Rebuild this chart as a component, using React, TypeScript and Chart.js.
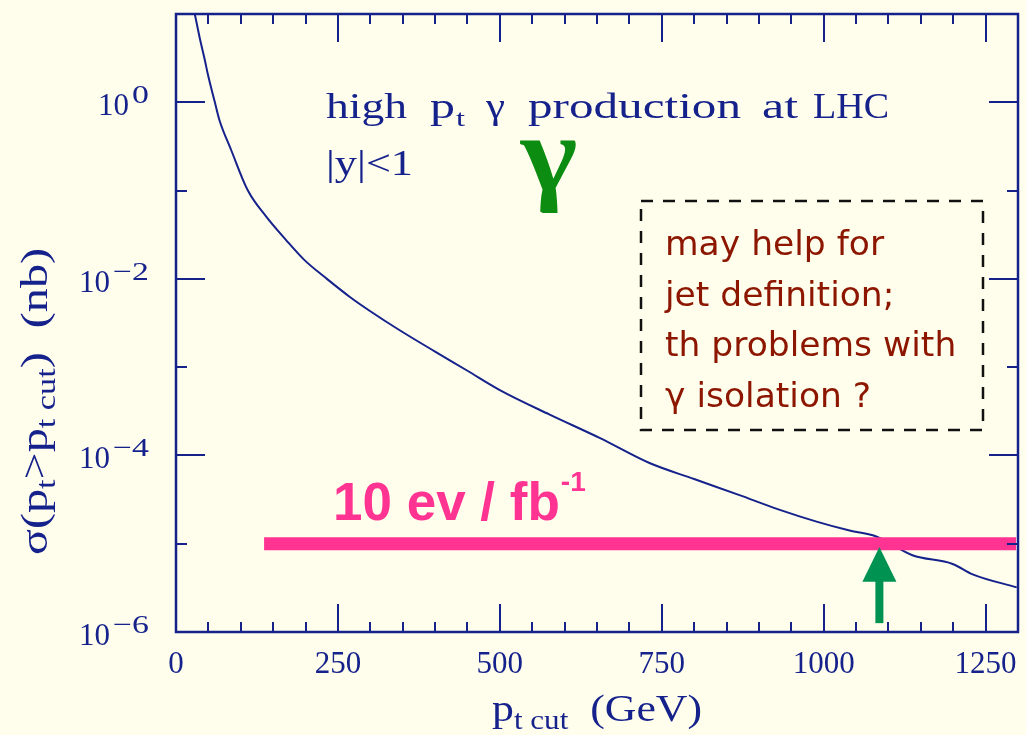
import React, { useEffect, useRef } from "react";
import { Chart, registerables } from "chart.js";
Chart.register(...registerables);

// ---- data ----
const ptCut = [25, 29, 37, 45, 49, 60, 67, 85, 111, 139, 170, 198, 233, 269, 300, 346, 400, 450, 500, 577, 654, 731, 800, 870, 930, 989, 1040, 1082, 1137, 1199, 1230, 1298];
const sigmaNb = [13.5, 10, 5.2, 2.9, 2.1, 1.0, 0.63, 0.29, 0.1, 0.051, 0.0275, 0.0164, 0.01, 0.0062, 0.0043, 0.0026, 0.0015, 0.00091, 0.00055, 0.00029, 0.000158, 0.000082, 0.000054, 0.0000355, 0.0000245, 0.0000178, 0.0000141, 0.000012, 0.0000074, 0.0000059, 0.0000045, 0.0000032];

const rateLineX = [136, 1297];
const rateLineY = [1e-5, 1e-5];

const arrowX = 1086;
const arrowFromY = 1.26e-6;
const arrowHeadBaseY = 3.7e-6;
const arrowTipY = 9.2e-6;

const xMin = 0;
const xMax = 1300;
const xMajorStep = 250;
const xMinorStep = 50;
const xTickValues = [0, 250, 500, 750, 1000, 1250];
const xTickLabels = ["0", "250", "500", "750", "1000", "1250"];
const yMinExp = -6;
const yMaxExp = 1;
const yTickExps = [0, -2, -4, -6];
const yTickSup = ["0", "\u22122", "\u22124", "\u22126"];

const titleWords = ["high", "p", "\u03b3", "production", "at", "LHC"];
const rapidityCut = "|y|<1";
const gammaSymbol = "\u03b3";
const noteLines = ["may help for", "jet definition;", "th problems with", "\u03b3 isolation ?"];
const rateLabel = "10 ev / fb";
const rateLabelSup = "-1";

const BG = "#fffeec";
const AXIS = "#16228c";
const PINK = "#ff3392";
const GREEN = "#009250";
const SERIF = "'Liberation Serif', 'Times New Roman', serif";

type Seg = { t: string; size: number; dy?: number };

function richWidth(ctx: CanvasRenderingContext2D, segs: Seg[]) {
  let w = 0;
  for (const s of segs) {
    ctx.font = `${s.size}px ${SERIF}`;
    w += ctx.measureText(s.t).width;
  }
  return w;
}
function drawRich(ctx: CanvasRenderingContext2D, segs: Seg[], x: number, y: number, sx: number) {
  ctx.save();
  ctx.translate(x, y);
  ctx.scale(sx, 1);
  let cx = 0;
  for (const s of segs) {
    ctx.font = `${s.size}px ${SERIF}`;
    ctx.fillText(s.t, cx, s.dy || 0);
    cx += ctx.measureText(s.t).width;
  }
  ctx.restore();
}
function drawFit(ctx: CanvasRenderingContext2D, t: string, x: number, y: number, w: number) {
  const nat = ctx.measureText(t).width;
  ctx.save();
  ctx.translate(x, y);
  ctx.scale(w / nat, 1);
  ctx.fillText(t, 0, 0);
  ctx.restore();
}

const bgPlugin = {
  id: "bg",
  beforeDraw(chart: any) {
    const ctx = chart.ctx;
    ctx.save();
    ctx.fillStyle = BG;
    ctx.fillRect(0, 0, chart.width, chart.height);
    ctx.restore();
  },
};

const arrowPlugin = {
  id: "arrow",
  afterDatasetsDraw(chart: any) {
    const { ctx, scales } = chart;
    const x = scales.x.getPixelForValue(arrowX);
    const yb = scales.y.getPixelForValue(arrowFromY);
    const yh = scales.y.getPixelForValue(arrowHeadBaseY);
    const yt = scales.y.getPixelForValue(arrowTipY);
    ctx.save();
    ctx.fillStyle = GREEN;
    ctx.fillRect(x - 4, yh - 1, 8, yb - yh + 1);
    ctx.beginPath();
    ctx.moveTo(x, yt);
    ctx.lineTo(x + 17, yh);
    ctx.lineTo(x - 17, yh);
    ctx.closePath();
    ctx.fill();
    ctx.restore();
  },
};

const axesPlugin = {
  id: "axesText",
  afterDraw(chart: any) {
    const { ctx, chartArea: a, scales } = chart;
    const xs = scales.x;
    const ys = scales.y;
    ctx.save();
    ctx.strokeStyle = AXIS;
    ctx.fillStyle = AXIS;
    // ticks
    ctx.lineWidth = 2;
    ctx.beginPath();
    for (let v = xMin + xMinorStep; v < xMax; v += xMinorStep) {
      const px = Math.round(xs.getPixelForValue(v));
      const len = v % xMajorStep === 0 ? 28 : 10;
      ctx.moveTo(px, a.bottom);
      ctx.lineTo(px, a.bottom - len);
      ctx.moveTo(px, a.top);
      ctx.lineTo(px, a.top + len);
    }
    for (let e = yMinExp + 1; e < yMaxExp; e++) {
      const py = Math.round(ys.getPixelForValue(Math.pow(10, e)));
      const len = e % 2 === 0 ? 29 : 11;
      ctx.moveTo(a.left, py);
      ctx.lineTo(a.left + len, py);
      ctx.moveTo(a.right, py);
      ctx.lineTo(a.right - len, py);
    }
    ctx.stroke();
    // frame
    ctx.lineWidth = 2.5;
    ctx.strokeRect(a.left, a.top, a.right - a.left, a.bottom - a.top);

    // x tick labels
    ctx.font = `31px ${SERIF}`;
    ctx.textAlign = "center";
    ctx.textBaseline = "alphabetic";
    xTickValues.forEach((v, i) => {
      ctx.fillText(xTickLabels[i], xs.getPixelForValue(v), 673);
    });
    // y tick labels
    ctx.textAlign = "left";
    yTickExps.forEach((e, i) => {
      const py = ys.getPixelForValue(Math.pow(10, e));
      ctx.font = `26px ${SERIF}`;
      const sw = ctx.measureText(yTickSup[i]).width * 1.3;
      drawRich(ctx, [{ t: yTickSup[i], size: 26 }], 149 - sw, py + 1, 1.3);
      ctx.font = `31px ${SERIF}`;
      ctx.textAlign = "right";
      ctx.fillText("10", 149 - sw - 3, py + 13);
      ctx.textAlign = "left";
    });

    // x title
    const xt: Seg[] = [
      { t: "p", size: 38 },
      { t: "t cut", size: 27, dy: 8 },
      { t: "  (GeV)", size: 38 },
    ];
    const xw = richWidth(ctx, xt);
    drawRich(ctx, xt, 492, 721, 210 / xw);

    // y title
    const yt: Seg[] = [
      { t: "\u03c3(p", size: 38 },
      { t: "t", size: 27, dy: 8 },
      { t: ">p", size: 38 },
      { t: "t cut", size: 27, dy: 8 },
      { t: ")  (nb)", size: 38 },
    ];
    const yw = richWidth(ctx, yt);
    ctx.save();
    ctx.translate(47, 555);
    ctx.rotate(-Math.PI / 2);
    drawRich(ctx, yt, 0, 0, 307 / yw);
    ctx.restore();

    // plot title
    const wordX = [326, 430, 486, 528, 762, 813];
    const wordW = [81, 25, 19, 213, 36, 76];
    ctx.font = `35px ${SERIF}`;
    titleWords.forEach((w, i) => {
      ctx.font = `35px ${SERIF}`;
      drawFit(ctx, w, wordX[i], 118, wordW[i]);
    });
    ctx.font = `24px ${SERIF}`;
    drawFit(ctx, "t", 456, 126, 9);
    ctx.font = `35px ${SERIF}`;
    drawFit(ctx, rapidityCut, 326, 175, 87);

    // big gamma
    ctx.fillStyle = "#0c8c10";
    ctx.font = `bold 108px 'Liberation Serif', serif`;
    ctx.textAlign = "center";
    ctx.save();
    ctx.translate(549, 190);
    ctx.scale(1.12, 1);
    ctx.fillText(gammaSymbol, 0, 0);
    ctx.restore();
    ctx.textAlign = "left";

    // dashed note box
    ctx.strokeStyle = "#111111";
    ctx.lineWidth = 2.5;
    ctx.setLineDash([12, 10]);
    ctx.strokeRect(641, 201, 342, 229);
    ctx.setLineDash([]);
    ctx.fillStyle = "#8c1600";
    ctx.font = `34.5px 'DejaVu Sans', sans-serif`;
    noteLines.forEach((l, i) => {
      ctx.fillText(l, 665, 255 + i * 50.7);
    });

    // rate label
    ctx.fillStyle = PINK;
    ctx.font = `bold 53px 'Liberation Sans', Arial, sans-serif`;
    ctx.fillText(rateLabel, 333, 520);
    const rw = ctx.measureText(rateLabel).width;
    ctx.font = `bold 28px 'Liberation Sans', Arial, sans-serif`;
    ctx.fillText(rateLabelSup, 333 + rw + 1, 491);

    ctx.restore();
  },
};

export default function App() {
  const ref = useRef<HTMLCanvasElement>(null);
  useEffect(() => {
    document.body.style.margin = "0";
    document.body.style.background = BG;
    const chart = new Chart(ref.current!, {
      type: "line",
      data: {
        datasets: [
          {
            label: "10 ev / fb-1",
            data: rateLineX.map((x, i) => ({ x, y: rateLineY[i] })),
            borderColor: PINK,
            borderWidth: 13,
            borderCapStyle: "butt",
            pointRadius: 0,
            tension: 0,
          },
          {
            label: "sigma",
            data: ptCut.map((x, i) => ({ x, y: sigmaNb[i] })),
            borderColor: AXIS,
            borderWidth: 2,
            pointRadius: 0,
            cubicInterpolationMode: "monotone",
          },
        ],
      },
      options: {
        animation: false,
        responsive: false,
        layout: { padding: { left: 176, top: 14, right: 8, bottom: 103 } },
        plugins: { legend: { display: false }, tooltip: { enabled: false } },
        scales: {
          x: { type: "linear", min: xMin, max: xMax, display: false },
          y: { type: "logarithmic", min: Math.pow(10, yMinExp), max: Math.pow(10, yMaxExp), display: false },
        },
      } as any,
      plugins: [bgPlugin, arrowPlugin, axesPlugin],
    });
    return () => chart.destroy();
  }, []);
  return (
    <div style={{ position: "absolute", left: 0, top: 0, width: 1026, height: 735, background: BG }}>
      <canvas ref={ref} width={1026} height={735} style={{ display: "block" }} />
    </div>
  );
}
